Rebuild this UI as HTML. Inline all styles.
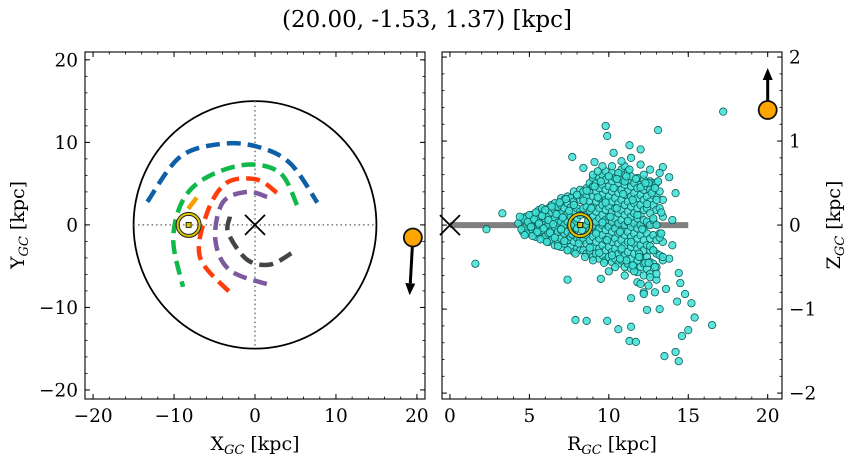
<!DOCTYPE html>
<html><head><meta charset="utf-8"><style>
body{margin:0;background:#fff;}
svg text{font-family:"DejaVu Serif","Liberation Serif",serif;fill:#000;}
</style></head><body>
<svg id="fig" width="854" height="464" viewBox="0 0 854 464" xmlns="http://www.w3.org/2000/svg">
<text x="427" y="27" font-size="23" text-anchor="middle">(20.00, -1.53, 1.37) [kpc]</text>
<g id="left"></g>
<g id="right"></g>
</svg>
<script>
// ---- data ----
const armBlue=[[-13.3,2.8],[-9.3,8.2],[-4.3,9.8],[0.2,9.5],[4.3,7.5],[7.7,2.7]];
const armGreen=[[5.2,2.4],[3.1,6.3],[-1,7.3],[-5.9,5.8],[-8.9,3],[-10.1,-1.8],[-8.9,-7.5]];
const armRed=[[2.7,3.9],[0.2,5.5],[-3.5,5.1],[-5.9,1.5],[-6.8,-3.9],[-3.1,-8.2]];
const armPurple=[[1.5,3.4],[-1,4],[-4,2.7],[-4.9,-1.8],[-3.1,-5.5],[1.9,-7.3]];
const armGray=[[-3.1,1],[-3.3,-1],[-1,-4.2],[1.9,-4.8],[4.7,-3.3]];
const armOrange=[[-7.2,3.3],[-8.6,1.5]];
const sunXY=[-8.2,0];
const objXY=[19.5,-1.53];
const objVelXY=[-0.4,-7];
const objRZ=[20.0,1.37];
const objVelRZ=[0,0.5];
const sunRZ=[8.2,0];
const starR=[17.2,9.8,9.9,13.1,11.3,12,7.7,10.3,9.1,8.4,13.4,13.8,14.2,3.3,2.3,1.6,7.4,9.5,9.9,10.6,11.3,11.4,11.4,12.2,12.4,13.2,13.6,14.4,14.5,14.8,14.3,15.2,15.4,15,14.6,16.5,12.6,12.9,13.8,14,14,13.5,14.2,14.4,11.7,7.9,8.6,
4.3,4.5,4.6,4.8,4.9,5.0,5.1,5.2,5.3,5.4,5.5,4.4,4.7,5.6,5.7,5.8,5.9,6.0,6.1,6.2,6.3,6.4,6.5,6.6,6.7,6.8,6.9,7.0,7.1,7.2,7.3,7.4,7.5,7.6,7.7,7.8,7.9,8.0,8.1,8.2,8.3,8.4,8.5,8.6,8.7,8.8,8.9,9.0,9.1,9.2,9.3,9.4,9.5,9.6,9.7,9.8,9.9,10.0,10.1,10.2,10.3,10.4,10.5,10.6,10.7,10.8,10.9,11.0,11.1,11.2,11.3,11.4,11.5,11.6,11.7,11.8,11.9,12.0,12.1,12.2,12.3,12.4,12.5,12.6,12.7,12.8,12.9,13.0,13.1,13.2,13.3,13.4,13.0,12.5,11.8,12.2,
9.0,9.6,10.2,10.8,11.4,12.0,12.6,13.2,9.3,10.5,11.1,12.3,12.9,10.0,11.0,12.0,13.0,11.5,12.5,10.7,11.9,12.8,13.3];
const starZ=[1.35,1.18,1.06,1.13,0.95,0.9,0.81,0.86,0.75,0.68,0.69,0.57,0.38,0.14,-0.05,-0.46,-0.65,-0.64,-1.14,-1.24,-1.38,-1.21,-0.87,-0.8,-1.01,-1.0,-0.76,-0.57,-0.69,-0.82,-0.91,-0.93,-1.1,-1.25,-1.32,-1.19,-0.62,-0.8,-0.4,-0.24,0.06,-1.56,-1.51,-1.62,-1.39,-1.13,-1.14,
0.02,-0.05,0.08,-0.1,0.04,0.12,-0.02,-0.13,0.07,0.15,-0.08,0.1,-0.12,0.02,-0.17,0.11,-0.04,0.18,-0.2,0.06,-0.09,0.22,0.01,-0.15,0.13,-0.25,0.27,-0.05,0.09,-0.19,0.31,-0.3,0.17,0.0,-0.11,0.24,-0.34,0.36,-0.22,0.12,-0.06,0.29,-0.38,0.41,0.05,-0.27,0.2,-0.42,0.46,-0.1,0.33,-0.33,0.52,0.03,-0.45,0.27,-0.18,0.58,0.1,-0.36,0.44,-0.5,0.2,0.62,-0.08,-0.28,0.37,0.52,-0.42,0.05,0.66,-0.2,0.3,-0.55,0.55,0.12,-0.34,0.45,-0.05,0.6,-0.45,0.25,0.5,-0.25,0.38,0.08,-0.5,0.3,0.52,-0.15,0.15,-0.38,-0.65,-0.72,-0.68,-0.82,
0.6,0.7,0.7,0.76,0.8,0.72,0.66,0.62,0.64,0.55,0.58,0.5,0.44,-0.55,-0.6,-0.7,-0.58,-0.48,-0.45,-0.4,-0.38,-0.3,-0.1];
// dense core: rows of R with the Z values of stars in each row
const coreRowR=[4.6,4.8,5.0,5.2,5.4,5.6,5.8,6.0,6.2,6.4,6.6,6.8,7.0,7.2,7.4,7.6,7.8,8.0,8.2,8.4,8.6,8.8,9.0,9.2,9.4,9.6,9.8,10.0,10.2,10.4,10.6,10.8,11.0,11.2,11.4,11.6,11.8,12.0,12.2,12.4,12.6,12.8,13.0,13.2,13.4];
const coreRowZ=[
[-0.08,0.06],[-0.02,0.1],[-0.1,0.0,0.1],[-0.06,0.05,0.12],[-0.14,-0.04,0.06,0.14],[-0.1,0.0,0.1,0.18],[-0.16,-0.06,0.04,0.14,0.2],[-0.14,-0.03,0.08,0.16],
[-0.2,-0.1,0.0,0.1,0.2],[-0.18,-0.06,0.05,0.15,0.24],[-0.24,-0.12,-0.02,0.08,0.18,0.26],[-0.2,-0.08,0.03,0.13,0.22],[-0.26,-0.16,-0.06,0.04,0.14,0.24,0.32],
[-0.22,-0.1,0.0,0.1,0.2,0.3],[-0.3,-0.18,-0.08,0.04,0.14,0.26,0.34],[-0.26,-0.14,-0.02,0.1,0.21,0.32],[-0.32,-0.2,-0.1,0.02,0.16,0.28,0.4],[-0.28,-0.15,-0.04,0.08,0.2,0.34],
[-0.3,-0.18,0.16,0.3,0.42],[-0.3,-0.18,0.2,0.32,0.4],[-0.34,-0.22,-0.12,0.0,0.12,0.22,0.34,0.44],[-0.3,-0.18,-0.06,0.06,0.17,0.28,0.4,0.5],
[-0.38,-0.26,-0.14,-0.02,0.1,0.22,0.34,0.46,0.56],[-0.34,-0.2,-0.08,0.04,0.16,0.28,0.4,0.5],[-0.4,-0.28,-0.16,-0.04,0.08,0.2,0.32,0.44,0.56],
[-0.36,-0.24,-0.12,0.0,0.12,0.24,0.36,0.48,0.6],[-0.42,-0.3,-0.18,-0.06,0.06,0.18,0.3,0.42,0.54,0.64],[-0.38,-0.26,-0.14,-0.02,0.1,0.22,0.34,0.46,0.58],
[-0.44,-0.32,-0.2,-0.08,0.04,0.16,0.28,0.4,0.52,0.62],[-0.4,-0.28,-0.16,-0.04,0.08,0.2,0.32,0.44,0.56],[-0.46,-0.34,-0.22,-0.1,0.02,0.14,0.26,0.38,0.5,0.6],
[-0.42,-0.3,-0.18,-0.06,0.06,0.18,0.3,0.42,0.54,0.66],[-0.5,-0.36,-0.24,-0.12,0.0,0.12,0.24,0.36,0.48,0.6,0.7],[-0.46,-0.32,-0.2,-0.08,0.04,0.16,0.28,0.4,0.52,0.64],
[-0.52,-0.4,-0.26,-0.14,-0.02,0.1,0.22,0.34,0.46,0.58],[-0.48,-0.34,-0.22,-0.1,0.02,0.14,0.26,0.38,0.5],[-0.56,-0.42,-0.28,-0.16,-0.04,0.08,0.2,0.32,0.44,0.56],
[-0.5,-0.38,-0.24,-0.12,0.0,0.12,0.24,0.36,0.48],[-0.6,-0.46,-0.3,-0.18,-0.06,0.06,0.18,0.3,0.42,0.54],[-0.52,-0.38,-0.24,-0.1,0.04,0.2,0.34,0.46],
[-0.58,-0.44,-0.3,-0.16,0.0,0.14,0.28,0.42,0.52],[-0.46,-0.3,-0.12,0.06,0.24,0.4,0.5],[-0.5,-0.34,-0.18,0.0,0.18,0.34,0.5],[-0.36,-0.1,0.2,0.4],[-0.42,-0.2,0.1,0.3]];

const svg=document.getElementById('fig');
const NS='http://www.w3.org/2000/svg';
function el(tag,attrs,parent){const e=document.createElementNS(NS,tag);for(const k in attrs)e.setAttribute(k,attrs[k]);parent.appendChild(e);return e;}

// ---- axes ----
const L={x0:85,x1:425,y0:52,y1:399,xmin:-21,xmax:21,ymin:-21.1,ymax:20.95};
const R={x0:442,x1:782,y0:52,y1:399,xmin:-0.5,xmax:20.9,ymin:-2.07,ymax:2.06};
function sx(A,v){return A.x0+(v-A.xmin)/(A.xmax-A.xmin)*(A.x1-A.x0);}
function sy(A,v){return A.y1-(v-A.ymin)/(A.ymax-A.ymin)*(A.y1-A.y0);}

const gL=document.getElementById('left'), gR=document.getElementById('right');

function frame(A,g,xMaj,xMin,yMaj,yMin,ySide){
  for(const v of xMin){const x=sx(A,v);el('line',{x1:x,x2:x,y1:A.y1,y2:A.y1-2.5,stroke:'#000','stroke-width':0.8},g);el('line',{x1:x,x2:x,y1:A.y0,y2:A.y0+2.5,stroke:'#000','stroke-width':0.8},g);}
  for(const v of yMin){const y=sy(A,v);el('line',{x1:A.x0,x2:A.x0+2.5,y1:y,y2:y,stroke:'#000','stroke-width':0.8},g);el('line',{x1:A.x1,x2:A.x1-2.5,y1:y,y2:y,stroke:'#000','stroke-width':0.8},g);}
  for(const v of xMaj){const x=sx(A,v);el('line',{x1:x,x2:x,y1:A.y1,y2:A.y1-5,stroke:'#000','stroke-width':1},g);el('line',{x1:x,x2:x,y1:A.y0,y2:A.y0+5,stroke:'#000','stroke-width':1},g);
    const t=el('text',{x:x,y:A.y1+23,'font-size':18.5,'text-anchor':'middle'},g);t.textContent=(v<0?'\u2212':'')+Math.abs(v);
    
    }
  for(const v of yMaj){const y=sy(A,v);el('line',{x1:A.x0,x2:A.x0+5,y1:y,y2:y,stroke:'#000','stroke-width':1},g);el('line',{x1:A.x1,x2:A.x1-5,y1:y,y2:y,stroke:'#000','stroke-width':1},g);
    const t=el('text',{x:ySide==='left'?A.x0-7:A.x1+7,y:y+6.5,'font-size':18.5,'text-anchor':ySide==='left'?'end':'start'},g);t.textContent=(v<0?'\u2212':'')+Math.abs(v);
    
    }
  const r=el('rect',{x:A.x0,y:A.y0,width:A.x1-A.x0,height:A.y1-A.y0,fill:'none',stroke:'#000','stroke-width':1.1},g);
  
  
}
const rng=(a,b,s)=>{const o=[];for(let v=a;v<=b+1e-9;v+=s)o.push(+v.toFixed(3));return o;};
frame(L,gL,[-20,-10,0,10,20],rng(-20,20,2),[-20,-10,0,10,20],rng(-20,20,2),'left');
frame(R,gR,[0,5,10,15,20],rng(0,20,1),[-2,-1,0,1,2],rng(-2,2,0.2),'right');

function lab(g,x,y,main,rot,name){const t=el('text',{x:x,y:y,'font-size':19,'text-anchor':'middle'},g);
  if(rot)t.setAttribute('transform','rotate(-90 '+x+' '+y+')');
  t.innerHTML=main+'<tspan font-size="13" font-style="italic" dy="4">GC</tspan><tspan dy="-4"> [kpc]</tspan>';
  
  }
lab(gL,255,450,'X','', 'x-axis-title');
lab(gL,24,225,'Y',true,'y-axis-title');
lab(gR,612,450,'R','', 'r-axis-title');
lab(gR,840,225,'Z',true,'z-axis-title');

// ---- left panel ----
const cx=sx(L,0), cy=sy(L,0), rpx=sx(L,15)-cx, rpy=sy(L,-15)-cy;
const circ=el('ellipse',{cx:cx,cy:cy,rx:rpx,ry:rpy,fill:'none',stroke:'#000','stroke-width':1.8},gL);


el('line',{x1:sx(L,-15),x2:sx(L,15),y1:cy,y2:cy,stroke:'#777','stroke-width':1.5,'stroke-dasharray':'1.5,3'},gL);
el('line',{x1:cx,x2:cx,y1:sy(L,15),y2:sy(L,-15),stroke:'#777','stroke-width':1.5,'stroke-dasharray':'1.5,3'},gL);

function smooth(pts){const p=pts.map(q=>[sx(L,q[0]),sy(L,q[1])]);let d='M'+p[0][0]+','+p[0][1];
  if(p.length===2)return d+'L'+p[1][0]+','+p[1][1];
  for(let i=0;i<p.length-1;i++){const p0=p[i-1]||p[i],p1=p[i],p2=p[i+1],p3=p[i+2]||p2;
    d+='C'+(p1[0]+(p2[0]-p0[0])/6)+','+(p1[1]+(p2[1]-p0[1])/6)+' '+(p2[0]-(p3[0]-p1[0])/6)+','+(p2[1]-(p3[1]-p1[1])/6)+' '+p2[0]+','+p2[1];}
  return d;}
const arms=[[armBlue,'#0f5fa6','arm-blue'],[armGreen,'#10b94a','arm-green'],[armRed,'#ff3d0d','arm-red'],[armPurple,'#7d5a9e','arm-purple'],[armGray,'#444','arm-gray'],[armOrange,'#f5a000','arm-orange']];
for(const a of arms){const p=el('path',{d:smooth(a[0]),fill:'none',stroke:a[1],'stroke-width':4.5,'stroke-dasharray':'14,7'},gL);
  
  }

function sun(g,x,y){const s=el('g',{},g);
  
  
  el('circle',{cx:x,cy:y,r:11,fill:'none',stroke:'#222','stroke-width':4},s);
  el('circle',{cx:x,cy:y,r:11,fill:'none',stroke:'#d9c400','stroke-width':2},s);
  el('rect',{x:x-2.5,y:y-2.5,width:5,height:5,fill:'#d9c400',stroke:'#000','stroke-width':0.8},s);}
function cross(g,x,y){const c=el('path',{d:`M${x-10},${y-10}L${x+10},${y+10}M${x-10},${y+10}L${x+10},${y-10}`,stroke:'#000','stroke-width':1.8},g);
  
  }
cross(gL,cx,cy);
sun(gL,sx(L,sunXY[0]),sy(L,sunXY[1]));

function obj(g,A,p,v){const x=sx(A,p[0]),y=sy(A,p[1]),x2=sx(A,p[0]+v[0]),y2=sy(A,p[1]+v[1]);
  const ang=Math.atan2(y2-y,x2-x),h=12,w=5;
  const ar=el('g',{},g);
  
  
  const bx=x2-h*Math.cos(ang),by=y2-h*Math.sin(ang);
  el('line',{x1:x,y1:y,x2:bx,y2:by,stroke:'#000','stroke-width':3},ar);
  el('path',{d:`M${x2},${y2}L${bx-w*Math.sin(ang)},${by+w*Math.cos(ang)}L${bx+w*Math.sin(ang)},${by-w*Math.cos(ang)}Z`,fill:'#000'},ar);
  const c=el('circle',{cx:x,cy:y,r:9,fill:'#ffa500',stroke:'#111','stroke-width':1.8},g);
  
  }
obj(gL,L,objXY,objVelXY);

// ---- right panel ----
const band=el('line',{x1:sx(R,0),x2:sx(R,15),y1:sy(R,0),y2:sy(R,0),stroke:'#808080','stroke-width':6},gR);


const stars=el('g',{},gR);


function star(r,z){const c=el('circle',{cx:sx(R,r),cy:sy(R,z),r:3.7,fill:'#3fe0d6',stroke:'#0b5e58','stroke-width':0.8,'fill-opacity':0.85},stars);
  
  }
for(let i=0;i<coreRowR.length;i++)for(const z of coreRowZ[i])star(coreRowR[i],z);
for(let i=0;i<starR.length;i++)star(starR[i],starZ[i]);
cross(gR,sx(R,0),sy(R,0));
sun(gR,sx(R,sunRZ[0]),sy(R,sunRZ[1]));
obj(gR,R,objRZ,objVelRZ);
</script>
</body></html>
